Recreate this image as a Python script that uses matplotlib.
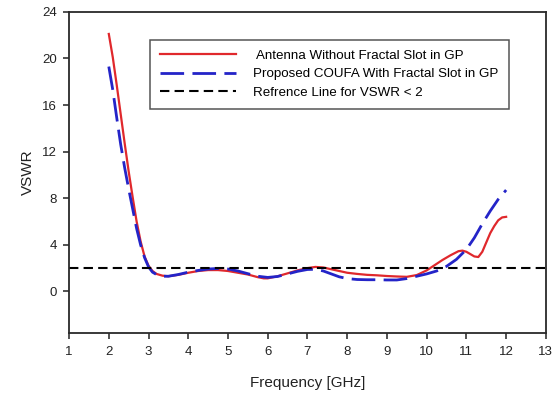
import matplotlib.pyplot as plt

plt.rcParams['font.family'] = ['Liberation Sans', 'DejaVu Sans']

# VSWR without the fractal slot in the ground plane
freq_ref = [2.0, 2.1, 2.2, 2.3, 2.4, 2.5, 2.6, 2.7, 2.8, 2.9, 3.0, 3.1, 3.2, 3.35, 3.5,
            3.75, 4.0, 4.25, 4.5, 4.75, 5.0, 5.25, 5.5, 5.75, 5.9, 6.0, 6.25, 6.5, 6.75,
            7.0, 7.2, 7.4, 7.6, 7.8, 8.0, 8.25, 8.5, 8.75, 9.0, 9.25, 9.5, 9.75, 10.0,
            10.2, 10.4, 10.6, 10.8, 10.9, 11.0, 11.1, 11.2, 11.3, 11.4, 11.5, 11.6, 11.7,
            11.8, 11.9, 12.0]
vswr_ref = [22.1, 20.1, 17.7, 15.2, 12.7, 10.3, 8.1, 6.0, 4.3, 3.0, 2.2, 1.75, 1.5, 1.35, 1.3,
            1.42, 1.6, 1.75, 1.83, 1.83, 1.75, 1.6, 1.45, 1.22, 1.12, 1.12, 1.3, 1.55, 1.8,
            2.0, 2.1, 2.05, 1.9, 1.75, 1.6, 1.5, 1.42, 1.38, 1.32, 1.28, 1.25, 1.4, 1.8,
            2.25, 2.7, 3.1, 3.45, 3.5, 3.4, 3.2, 3.0, 2.95, 3.4, 4.2, 5.0, 5.6,
            6.1, 6.35, 6.4]

# VSWR of the proposed COUFA with the fractal slot
freq_coufa = [2.0, 2.1, 2.2, 2.3, 2.4, 2.5, 2.6, 2.7, 2.8, 2.9, 3.0, 3.1, 3.2, 3.35, 3.5,
              3.75, 4.0, 4.25, 4.5, 4.75, 5.0, 5.25, 5.5, 5.75, 6.0, 6.25, 6.5, 6.75, 7.0,
              7.2, 7.4, 7.6, 7.8, 8.0, 8.25, 8.5, 8.75, 9.0, 9.25, 9.5, 9.75, 10.0, 10.25,
              10.5, 10.75, 11.0, 11.2, 11.4, 11.6, 11.8, 12.0]
vswr_coufa = [19.3, 17.3, 14.9, 12.6, 10.6, 8.8, 7.1, 5.4, 4.0, 2.9, 2.1, 1.65, 1.45, 1.3, 1.3,
              1.45, 1.65, 1.8, 1.92, 1.97, 1.92, 1.75, 1.52, 1.3, 1.2, 1.28, 1.5, 1.72, 1.88,
              1.9, 1.75, 1.5, 1.25, 1.1, 1.02, 1.0, 1.0, 0.98, 0.98, 1.1, 1.3, 1.5, 1.75,
              2.15, 2.75, 3.6, 4.6, 5.8, 6.9, 7.9, 8.7]

vswr_limit = 2
x_ticks = list(range(1, 14))
y_ticks = [0, 4, 8, 12, 16, 20, 24]

fig = plt.figure(figsize=(5.57, 3.94), dpi=100)
ax = fig.add_axes([0.124, 0.154, 0.856, 0.816])

ax.plot(freq_ref, vswr_ref, color='#e0282c', lw=1.6,
        label=' Antenna Without Fractal Slot in GP')
ax.plot(freq_coufa, vswr_coufa, color='#2424c8', lw=2.0, dashes=(8.5, 3),
        label='Proposed COUFA With Fractal Slot in GP')
ax.axhline(vswr_limit, color='black', lw=1.5, dashes=(4.5, 2.5),
           label='Refrence Line for VSWR < 2')

ax.set_xlim(1, 13)
ax.set_ylim(-3.6, 24)
ax.set_xticks(x_ticks)
ax.set_yticks(y_ticks)
ax.tick_params(direction='out', length=4, width=1.1, labelsize=9.5, colors='#222222', pad=5)
for sp in ax.spines.values():
    sp.set_linewidth(1.3)
    sp.set_color('#2a2a2a')

ax.set_xlabel('Frequency [GHz]', fontsize=11, color='#222222', labelpad=13)
ax.set_ylabel('VSWR', fontsize=11, color='#222222', labelpad=5)

leg = ax.legend(loc='upper left', bbox_to_anchor=(0.170, 0.913), fontsize=9.6,
                frameon=True, fancybox=False, handlelength=5.7, handletextpad=1.3,
                borderpad=0.75, labelspacing=0.45, borderaxespad=0)
leg.get_frame().set_edgecolor('#2a2a2a')
leg.get_frame().set_linewidth(1.1)

fig.savefig('out.png', dpi=100)
